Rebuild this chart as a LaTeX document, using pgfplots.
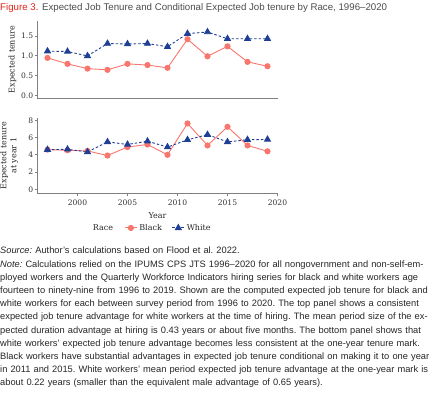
\documentclass[border=0pt]{standalone}
\usepackage{pgfplots}
\pgfplotsset{compat=1.18}
\usepackage{pgfplotstable}
\usepackage{fontspec}
\setmainfont{Liberation Sans}
\newfontfamily\chartfont{DejaVu Serif}
\definecolor{blackser}{HTML}{F8766D}
\definecolor{whiteser}{HTML}{1F3F95}
\definecolor{figred}{HTML}{E2231A}
\definecolor{axgray}{HTML}{808080}
\definecolor{txtgray}{HTML}{262626}

\pgfplotstableread{
year black white
1997 0.95 1.12
1999 0.80 1.11
2001 0.68 1.00
2003 0.65 1.31
2005 0.80 1.30
2007 0.77 1.31
2009 0.70 1.23
2011 1.42 1.56
2013 0.99 1.60
2015 1.24 1.43
2017 0.85 1.43
2019 0.74 1.43
}\toptable

\pgfplotstableread{
year black white
1997 4.60 4.60
1999 4.53 4.64
2001 4.45 4.34
2003 3.92 5.50
2005 4.90 5.20
2007 5.20 5.58
2009 4.00 4.90
2011 7.64 5.74
2013 5.09 6.34
2015 7.25 5.50
2017 5.09 5.75
2019 4.41 5.78
}\bottable

\pgfplotsset{
 myax/.style={
  scale only axis, width=240bp,
  xmin=1996, xmax=2020,
  axis x line*=bottom, axis y line*=left,
  axis line style={axgray, line width=0.8bp, -},
  tick style={axgray, line width=0.8bp},
  tick align=outside, major tick length=3bp,
  ticklabel style={font=\chartfont\fontsize{7.6bp}{9bp}\selectfont, text=black!80},
  label style={font=\chartfont\fontsize{8bp}{10bp}\selectfont, text=black!85},
  yticklabel style={inner xsep=1.2bp},
  clip=false,
 },
 blk/.style={blackser, line width=0.9bp, mark=*, mark size=2.6bp, mark options={solid, fill=blackser, draw=blackser}},
 wht/.style={whiteser, line width=0.9bp, dash pattern=on 2.5bp off 2bp, mark=triangle*, mark size=3.4bp, mark options={solid, fill=whiteser, draw=whiteser}},
}

\begin{document}
\begin{tikzpicture}
\useasboundingbox (0,0) rectangle (440bp,-393bp);

\node[anchor=west, inner sep=0, font=\fontsize{9.7bp}{11bp}\selectfont] at (0,-8bp)
 {\textcolor{figred}{Figure 3.} \textcolor{black!70}{Expected Job Tenure and Conditional Expected Job tenure by Race, 1996–2020}};

% top panel
\begin{axis}[myax,
  at={(37.5bp,-98.7bp)}, anchor=south west, height=78bp,
  ymin=-0.075, ymax=1.884,
  xtick=\empty,
  ytick={0,0.5,1,1.5}, yticklabels={0.0,0.5,1.0,1.5},
  ylabel={Expected tenure},
  ylabel style={at={(axis description cs:-0.104,0.5)}, anchor=center},
]
\addplot[blk] table[x=year, y=black] {\toptable};
\addplot[wht] table[x=year, y=white] {\toptable};
\end{axis}

% bottom panel
\begin{axis}[myax,
  at={(37.5bp,-193.3bp)}, anchor=south west, height=75.3bp,
  ymin=-0.46, ymax=8.27,
  xtick={2000,2005,2010,2015,2020}, xticklabels={2000,2005,2010,2015,2020},
  ytick={0,2,4,6,8}, yticklabels={0,2,4,6,8},
  ylabel={Expected tenure\\at year 1},
  ylabel style={align=center, at={(axis description cs:-0.118,0.5)}, anchor=center},
  xlabel={Year},
  xlabel style={at={(axis description cs:0.5,-0.30)}, anchor=center},
  legend style={at={(axis description cs:0.546,-0.46)}, anchor=center, draw=none, fill=none,
    legend columns=2, font=\chartfont\fontsize{8bp}{9bp}\selectfont, text=black!85,
    /tikz/every even column/.append style={column sep=8bp}},
  legend image code/.code={\draw[mark repeat=2,mark phase=2,#1] plot coordinates {(0bp,0bp) (6bp,0bp) (12bp,0bp)};},
]
\addplot[blk] table[x=year, y=black] {\bottable};
\addlegendentry{Black}
\addplot[wht] table[x=year, y=white] {\bottable};
\addlegendentry{White}
\node[font=\chartfont\fontsize{8bp}{9bp}\selectfont, text=black!85] at (axis description cs:0.273,-0.46) {Race};
\end{axis}

\node[anchor=north west, inner sep=0, text width=437bp, text=txtgray,
      font=\fontsize{9.3bp}{13.2bp}\selectfont] at (0,-247bp) {%
\frenchspacing\tolerance=10000\hyphenpenalty=10000\parfillskip=0pt plus 1fil
\textit{Source:} Author’s calculations based on Flood et al. 2022.\\
\textit{Note:} Calculations relied on the IPUMS CPS JTS 1996–2020 for all nongovernment and non-self-em-\linebreak
ployed workers and the Quarterly Workforce Indicators hiring series for black and white workers age\linebreak
fourteen to ninety-nine from 1996 to 2019. Shown are the computed expected job tenure for black and\linebreak
white workers for each between survey period from 1996 to 2020. The top panel shows a consistent\linebreak
expected job tenure advantage for white workers at the time of hiring. The mean period size of the ex-\linebreak
pected duration advantage at hiring is 0.43 years or about five months. The bottom panel shows that\linebreak
white workers’ expected job tenure advantage becomes less consistent at the one-year tenure mark.\linebreak
Black workers have substantial advantages in expected job tenure conditional on making it to one year\linebreak
in 2011 and 2015. White workers’ mean period expected job tenure advantage at the one-year mark is\linebreak
about 0.22 years (smaller than the equivalent male advantage of 0.65 years).};
\end{tikzpicture}
\end{document}
